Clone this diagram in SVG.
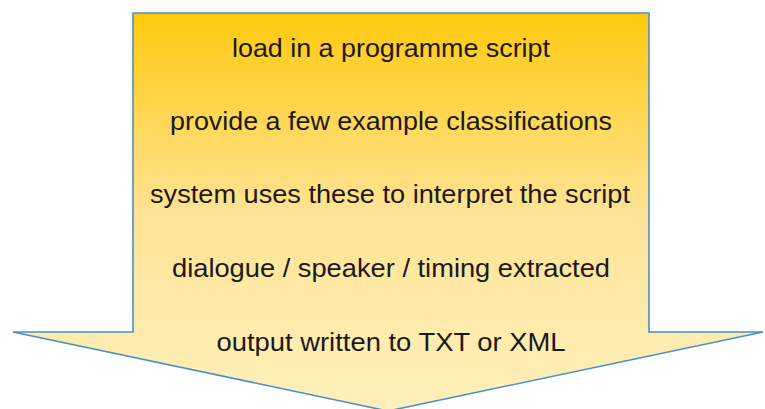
<svg xmlns="http://www.w3.org/2000/svg" width="765" height="409" viewBox="0 0 765 409">
<defs>
<linearGradient id="g" x1="0" y1="13" x2="0" y2="411" gradientUnits="userSpaceOnUse">
<stop offset="0" stop-color="#FFC90E"/>
<stop offset="0.5" stop-color="#FFE394"/>
<stop offset="1" stop-color="#FEF0BC"/>
</linearGradient>
<style>
.t{font-family:"Liberation Sans",Arial,sans-serif;font-size:25px;fill:#1a1a1a;text-anchor:middle}
</style>
</defs>
<g id="arrow">
<path d="M133,13 H649 V332 H763 L388,411 L13,332 H133 Z" fill="url(#g)" stroke="#4A8FCB" stroke-width="1.6" stroke-linejoin="miter"/>
</g>
<g id="steps">
<text class="t" x="391" y="57" textLength="318" lengthAdjust="spacingAndGlyphs">load in a programme script</text>
<text class="t" x="391" y="130" textLength="442" lengthAdjust="spacingAndGlyphs">provide a few example classifications</text>
<text class="t" x="390" y="203" textLength="480" lengthAdjust="spacingAndGlyphs">system uses these to interpret the script</text>
<text class="t" x="391" y="277" textLength="438" lengthAdjust="spacingAndGlyphs">dialogue / speaker / timing extracted</text>
<text class="t" x="391" y="351" textLength="349" lengthAdjust="spacingAndGlyphs">output written to TXT or XML</text>
</g>
</svg>
